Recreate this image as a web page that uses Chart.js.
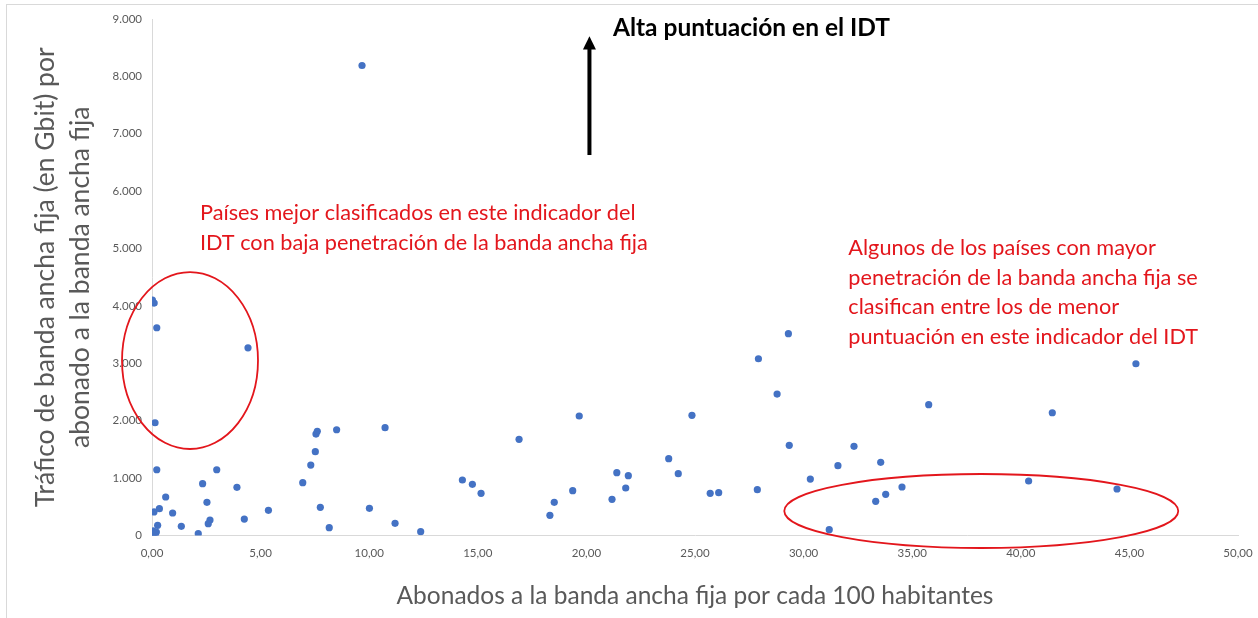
<!DOCTYPE html>
<html lang="es">
<head>
<meta charset="utf-8">
<title>Tráfico de banda ancha fija por abonado</title>
<script src="https://cdn.jsdelivr.net/npm/chart.js@4.4.1/dist/chart.umd.min.js"></script>
<style>
    html, body { margin: 0; padding: 0; background: #ffffff; }
    #wrap { position: relative; width: 1258px; height: 618px; }
</style>
</head>
<body>
<div id="wrap"><canvas id="scatterChart"></canvas></div>
<script>
// Abonados a la banda ancha fija por cada 100 habitantes (eje X)
const abonados = [
    9.67, 0.02, 0.10, 0.22, 4.42, 0.14, 0.22, 2.98, 2.33, 3.91,
    0.63, 2.53, 0.09, 0.34, 0.95, 5.36, 4.25, 2.67, 2.59, 0.26,
    1.35, 2.13, 0.05, 0.10, 0.15, 0.20, 0.03, 6.94, 7.31, 7.52,
    7.55, 7.61, 8.50, 7.75, 8.16, 10.01, 10.73, 11.19, 12.37, 14.29,
    14.75, 15.15, 16.90, 18.32, 18.52, 19.37, 19.67, 21.18, 21.40, 21.81,
    21.93, 23.79, 24.23, 24.86, 25.70, 26.09, 27.87, 28.78, 29.34, 30.31,
    31.58, 32.32, 31.18, 33.32, 33.55, 33.78, 34.53, 35.76, 41.45, 45.30,
    40.36, 44.43, 27.92, 29.30
];

// Tráfico (Gbit) por abonado (eje Y)
const trafico = [
    8190, 4100, 4050, 3620, 3270, 1965, 1146, 1146, 903, 840,
    671, 578, 410, 467, 392, 438, 287, 270, 206, 178,
    160, 31, 80, 30, 5, 60, 10, 920, 1228, 1460,
    1768, 1815, 1843, 491, 136, 474, 1878, 212, 66, 967,
    892, 735, 1676, 352, 578, 781, 2082, 631, 1094, 828,
    1042, 1338, 1077, 2094, 735, 746, 798, 2465, 1571, 984,
    1216, 1554, 101, 596, 1275, 718, 845, 2279, 2139, 2993,
    950, 810, 3080, 3516
];

const X_MIN = 0, X_MAX = 50, X_STEP = 5;
const Y_MIN = 0, Y_MAX = 9000, Y_STEP = 1000;

const xTitle = 'Abonados a la banda ancha fija por cada 100 habitantes';
const yTitle = ['Tráfico de banda ancha fija (en Gbit) por', 'abonado a la banda ancha fija'];

const topNote = 'Alta puntuación en el IDT';
const leftNote = ['Países mejor clasificados en este indicador del', 'IDT con baja penetración de la banda ancha fija'];
const rightNote = [
    'Algunos de los países con mayor',
    'penetración de la banda ancha fija se',
    'clasifican entre los de menor',
    'puntuación en este indicador del IDT'
];

const FONT = "Lato, 'Open Sans', sans-serif";
const GREY = '#595959';
const RED = '#e3161c';
const BLUE = '#4472c4';

const points = abonados.map((x, i) => ({ x: x, y: trafico[i] }));

function fmtThousands(v) {
    return String(v).replace(/\B(?=(\d{3})+(?!\d))/g, '.');
}

// Anotaciones (flecha, textos y elipses) en coordenadas de datos
const notesPlugin = {
    id: 'notes',
    afterDraw(chart) {
        const ctx = chart.ctx;
        const xs = chart.scales.x;
        const ys = chart.scales.y;
        const px = v => xs.getPixelForValue(v);
        const py = v => ys.getPixelForValue(v);

        ctx.save();

        // marco exterior
        ctx.strokeStyle = '#d9d9d9';
        ctx.lineWidth = 1;
        ctx.strokeRect(6.5, 4.5, 1300, 700);

        // flecha
        const ax = px(20.14);
        ctx.fillStyle = '#000000';
        ctx.fillRect(ax - 2, py(8480), 4, py(6630) - py(8480));
        ctx.beginPath();
        ctx.moveTo(ax, py(8700));
        ctx.lineTo(ax - 6.5, py(8470));
        ctx.lineTo(ax + 6.5, py(8470));
        ctx.closePath();
        ctx.fill();

        ctx.textBaseline = 'middle';
        ctx.textAlign = 'left';
        ctx.font = 'bold 24.5px ' + FONT;
        ctx.fillText(topNote, px(21.22), py(8843));

        ctx.fillStyle = RED;
        ctx.font = '21.7px ' + FONT;
        leftNote.forEach((t, i) => ctx.fillText(t, px(2.21), py(5619) + i * 30));
        rightNote.forEach((t, i) => ctx.fillText(t, px(32.06), py(5009) + i * 29.5));

        // elipses
        ctx.strokeStyle = RED;
        ctx.lineWidth = 1.8;
        const ell = (cx, cy, rx, ry) => {
            const cxp = px(cx), cyp = py(cy);
            ctx.beginPath();
            ctx.ellipse(cxp, cyp, Math.abs(px(cx + rx) - cxp), Math.abs(py(cy + ry) - cyp), 0, 0, Math.PI * 2);
            ctx.stroke();
        };
        ell(1.75, 3049, 3.13, 1542);
        ell(38.18, 427, 9.07, 645);

        ctx.restore();
    }
};

new Chart(document.getElementById('scatterChart'), {
    type: 'scatter',
    data: {
        datasets: [{
            label: 'Países',
            data: points,
            backgroundColor: BLUE,
            borderColor: BLUE,
            borderWidth: 0,
            pointRadius: 3.6,
            pointHoverRadius: 4
        }]
    },
    options: {
        responsive: true,
        maintainAspectRatio: false,
        animation: false,
        layout: { padding: { left: 0, right: 20, top: 19, bottom: 0 } },
        plugins: {
            legend: { display: false },
            tooltip: { enabled: true }
        },
        scales: {
            x: {
                type: 'linear',
                min: X_MIN,
                max: X_MAX,
                grid: { display: false, drawTicks: false },
                border: { display: true, color: '#d9d9d9', width: 1 },
                afterFit: s => {
                    s.height = 82.5;
                    s.paddingLeft = 0;
                    s.paddingRight = 0;
                },
                ticks: {
                    stepSize: X_STEP,
                    padding: 11,
                    color: GREY,
                    font: { family: FONT, size: 11.5 },
                    callback: v => v.toFixed(2).replace('.', ',')
                },
                title: {
                    display: true,
                    text: xTitle,
                    color: GREY,
                    font: { family: FONT, size: 24.5 },
                    padding: { top: 0, bottom: 7 }
                }
            },
            y: {
                type: 'linear',
                min: Y_MIN,
                max: Y_MAX,
                grid: { display: false, drawTicks: false },
                border: { display: true, color: '#d9d9d9', width: 1 },
                afterFit: s => { s.width = 152; },
                ticks: {
                    stepSize: Y_STEP,
                    padding: 10,
                    color: GREY,
                    font: { family: FONT, size: 11.5 },
                    callback: v => fmtThousands(v)
                },
                title: {
                    display: true,
                    text: yTitle,
                    color: GREY,
                    font: { family: FONT, size: 26.5, lineHeight: 1.33 },
                    padding: { top: 27.5, bottom: 0 }
                }
            }
        }
    },
    plugins: [notesPlugin]
});
</script>
</body>
</html>
